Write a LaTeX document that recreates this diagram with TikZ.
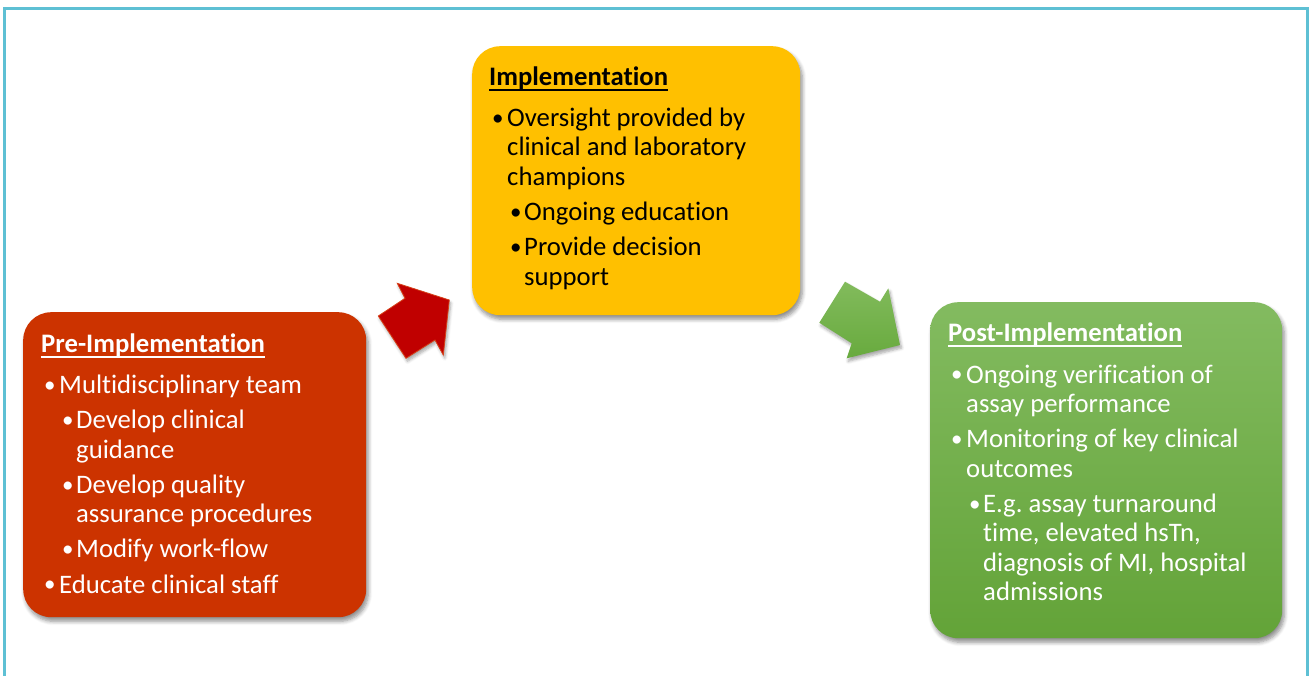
\documentclass[tikz,border=0pt]{standalone}
\usepackage{fontspec}
\setmainfont{Carlito}[Ligatures={NoCommon}]
\usetikzlibrary{shadows.blur}
\frenchspacing
\definecolor{bordercol}{RGB}{94,192,212}
\definecolor{prered}{RGB}{204,51,0}
\definecolor{impyel}{RGB}{255,192,0}
\definecolor{postgreenT}{RGB}{131,187,96}
\definecolor{postgreenB}{RGB}{99,163,56}
\definecolor{arrred}{RGB}{192,0,0}
\definecolor{arrredline}{RGB}{214,64,24}
\definecolor{arrgreenT}{RGB}{130,187,92}
\definecolor{arrgreenB}{RGB}{104,170,62}
\newcommand\boxtitle[1]{\setbox0\hbox{\bfseries #1}\rlap{\rule[-5.6pt]{\wd0}{2pt}}\box0\par\vskip6.3pt}
\newcommand\smallbullet{\raisebox{1.3pt}{\fontsize{23pt}{23pt}\selectfont\textbullet}}
\newcommand\iA[1]{\par\vskip5.8pt\hangindent=18pt\hangafter=1\noindent\hspace*{3pt}\makebox[15pt][l]{\smallbullet}#1}
\newcommand\iB[1]{\par\vskip5.8pt\hangindent=35pt\hangafter=1\noindent\hspace*{21pt}\makebox[14pt][l]{\smallbullet}#1}
\newcommand\boxtext[1]{\parbox[t]{335pt}{\frenchspacing\fontsize{26.7pt}{29.4pt}\selectfont\noindent #1}}
\tikzset{
  stagebox/.style={rounded corners=28pt, minimum width=#1, anchor=north west, inner sep=0pt,
    blur shadow={shadow xshift=2pt, shadow yshift=-4pt, shadow blur steps=6, shadow opacity=45, shadow blur radius=4pt}},
  stagetext/.style={anchor=base west, inner sep=0pt},
  blockarrow/.style={blur shadow={shadow xshift=1.5pt, shadow yshift=-3pt, shadow blur steps=5, shadow opacity=35, shadow blur radius=3pt}}
}
\begin{document}
\begin{tikzpicture}[x=1pt,y=-1pt]
\useasboundingbox (0,0) rectangle (1312,675);
\begin{scope}
\clip (0,0) rectangle (1312,675);
\draw[bordercol, line width=3pt] (4.7,8.5) rectangle (1307,700);
\end{scope}
% boxes
\node[stagebox=343pt, minimum height=305pt, fill=prered] (pre) at (23,312) {};
\node[stagebox=328pt, minimum height=269pt, fill=impyel] (imp) at (472,46) {};
\node[stagebox=352pt, minimum height=336pt, top color=postgreenT, bottom color=postgreenB] (post) at (930,302) {};
% texts
\node[stagetext, text=white] (pretext) at (41,352) {\boxtext{%
\boxtitle{Pre-Implementation}%
\iA{Multidisciplinary team}%
\iB{Develop clinical\newline guidance}%
\iB{Develop quality\newline assurance procedures}%
\iB{Modify work-flow}%
\iA{Educate clinical staff}}};
\node[stagetext, text=black] (imptext) at (489,85) {\boxtext{%
\boxtitle{Implementation}%
\iA{Oversight provided by\newline clinical and laboratory\newline champions}%
\iB{Ongoing education}%
\iB{Provide decision\newline support}}};
\node[stagetext, text=white] (posttext) at (948,341.7) {\boxtext{%
\boxtitle{Post-Implementation}%
\iA{Ongoing verification of\newline assay performance}%
\iA{Monitoring of key clinical\newline outcomes}%
\iB{E.g. assay turnaround\newline time, elevated hsTn,\newline diagnosis of MI, hospital\newline admissions}}};
% block arrows
\filldraw[blockarrow, fill=arrred, draw=arrredline, line width=0.8pt, line join=miter]
  (397.3,283.3) -- (449.3,300) -- (443.3,355) -- (435,340) -- (406,358.3) -- (378.3,316) -- (405,298.3) -- cycle;
\draw[blockarrow, top color=arrgreenT, bottom color=arrgreenB, draw=none]
  (845,281.7) -- (880,301.7) -- (888.3,288.3) -- (900,345) -- (846.7,358.3) -- (851.7,343.3) -- (819.3,322.7) -- cycle;
\end{tikzpicture}
\end{document}
